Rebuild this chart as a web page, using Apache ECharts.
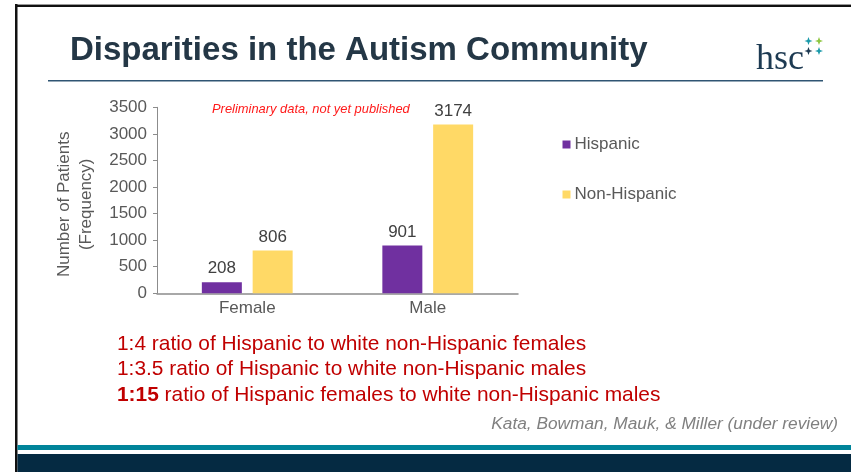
<!DOCTYPE html>
<html>
<head>
<meta charset="utf-8">
<script src="https://cdn.jsdelivr.net/npm/echarts@6/dist/echarts.min.js"></script>
<style>
  html, body { margin: 0; padding: 0; background: #ffffff; }
  #chart { width: 851px; height: 472px; }
</style>
</head>
<body>
<div id="chart"></div>
<script>
// Patient counts by sex and ethnicity
const categories = ['Female', 'Male'];
const seriesNames = ['Hispanic', 'Non-Hispanic'];
const hispanic = [208, 901];
const nonHispanic = [806, 3174];
const yMin = 0;
const yMax = 3500;
const yStep = 500;

const titleText = 'Disparities in the Autism Community';
const noteText = 'Preliminary data, not yet published';
const ratioLines = [
  '1:4 ratio of Hispanic to white non-Hispanic females',
  '1:3.5 ratio of Hispanic to white non-Hispanic males',
  '{b|1:15} ratio of Hispanic females to white non-Hispanic males'
];
const citation = 'Kata, Bowman, Mauk, & Miller (under review)';

const FONT = '"Liberation Sans", Arial, Helvetica, sans-serif';
const GRAY = '#595959';
const RED = '#c00000';

// four-pointed sparkle used in the logo
function sparkle(cx, cy, r, color) {
  const k = r * 0.28;
  return {
    type: 'polygon',
    shape: {
      points: [
        [cx, cy - r], [cx + k, cy - k], [cx + r, cy], [cx + k, cy + k],
        [cx, cy + r], [cx - k, cy + k], [cx - r, cy], [cx - k, cy - k]
      ]
    },
    style: { fill: color },
    silent: true
  };
}

const chart = echarts.init(document.getElementById('chart'), null, { renderer: 'canvas' });

const graphics = [
  // slide frame
  { type: 'rect', shape: { x: 15, y: 4, width: 836, height: 1 }, style: { fill: '#9a9a9a' } },
  { type: 'rect', shape: { x: 15, y: 5, width: 836, height: 2 }, style: { fill: '#111111' } },
  { type: 'rect', shape: { x: 15, y: 4, width: 2.5, height: 468 }, style: { fill: '#111111' } },
  // footer bands
  { type: 'rect', shape: { x: 17.5, y: 445, width: 834, height: 5 }, style: { fill: '#00849a' } },
  { type: 'rect', shape: { x: 17.5, y: 454, width: 834, height: 18 }, style: { fill: '#052a42' } },
  // heading
  {
    type: 'text', x: 70, y: 51,
    style: { text: titleText, fontSize: 33, fontWeight: 'bold', fontFamily: FONT, fill: '#243746', verticalAlign: 'middle', align: 'left' }
  },
  { type: 'rect', shape: { x: 48, y: 80, width: 775, height: 1.5 }, style: { fill: '#2f5573' } },
  // logo
  {
    type: 'text', x: 756, y: 59.5,
    style: { text: 'hsc', fontSize: 36, fontFamily: '"Liberation Serif", "Times New Roman", serif', fill: '#1d3a52', verticalAlign: 'middle', align: 'left' }
  },
  sparkle(808.5, 41, 4, '#1b9aaa'),
  sparkle(819, 41, 4, '#8dc63f'),
  sparkle(808.5, 51, 4, '#1d3a52'),
  sparkle(819, 51, 4, '#1b9aaa'),
  // note above the bars
  {
    type: 'text', x: 212, y: 109,
    style: { text: noteText, fontSize: 12.9, fontStyle: 'italic', fontFamily: FONT, fill: '#ff1a1a', verticalAlign: 'middle', align: 'left' }
  },
  // citation
  {
    type: 'text', x: 838, y: 424,
    style: { text: citation, fontSize: 17.3, fontStyle: 'italic', fontFamily: FONT, fill: '#808080', verticalAlign: 'middle', align: 'right' }
  }
];

const lineY = [344, 369.5, 395.5];
ratioLines.forEach((t, i) => {
  graphics.push({
    type: 'text', x: 117, y: lineY[i],
    style: {
      text: t, fontSize: 20.9, fontFamily: FONT, fill: RED, verticalAlign: 'middle', align: 'left',
      rich: { b: { fontSize: 20.9, fontWeight: 'bold', fontFamily: FONT, fill: RED } }
    }
  });
});

const barLabel = {
  show: true, position: 'top', distance: 5,
  fontSize: 17, color: '#404040', fontFamily: FONT
};

chart.setOption({
  backgroundColor: '#ffffff',
  animation: false,
  textStyle: { fontFamily: FONT },
  grid: { left: 157, top: 107.3, width: 361, height: 186, containLabel: false },
  legend: {
    orient: 'vertical',
    left: 562.5, top: 136,
    padding: 0,
    itemWidth: 8, itemHeight: 8, itemGap: 33,
    icon: 'rect',
    textStyle: { fontSize: 17, color: GRAY, fontFamily: FONT, padding: [0, 0, 0, -1] },
    data: seriesNames
  },
  xAxis: {
    type: 'category',
    data: categories,
    axisLine: { show: true, lineStyle: { color: '#8c8c8c', width: 1.5 } },
    axisTick: { show: false },
    axisLabel: { fontSize: 17, color: GRAY, margin: 7, fontFamily: FONT }
  },
  yAxis: {
    type: 'value',
    min: yMin, max: yMax, interval: yStep,
    name: 'Number of Patients\n(Frequency)',
    nameLocation: 'middle',
    nameRotate: 90,
    nameGap: 60,
    nameTextStyle: { fontSize: 17, lineHeight: 22, color: GRAY, fontFamily: FONT, padding: [0, 8, 0, 0] },
    axisLine: { show: true, lineStyle: { color: '#8c8c8c', width: 1 } },
    axisTick: { show: true, length: 4, lineStyle: { color: '#8c8c8c' } },
    splitLine: { show: false },
    axisLabel: { fontSize: 17, color: GRAY, margin: 10, fontFamily: FONT, formatter: (v) => String(v) }
  },
  series: [
    {
      name: seriesNames[0], type: 'bar', data: hispanic,
      barWidth: 40, barGap: '27%',
      itemStyle: { color: '#7030a0' },
      label: barLabel
    },
    {
      name: seriesNames[1], type: 'bar', data: nonHispanic,
      barWidth: 40, barGap: '27%',
      itemStyle: { color: '#ffd966' },
      label: barLabel
    }
  ],
  graphic: graphics
});
</script>
</body>
</html>
